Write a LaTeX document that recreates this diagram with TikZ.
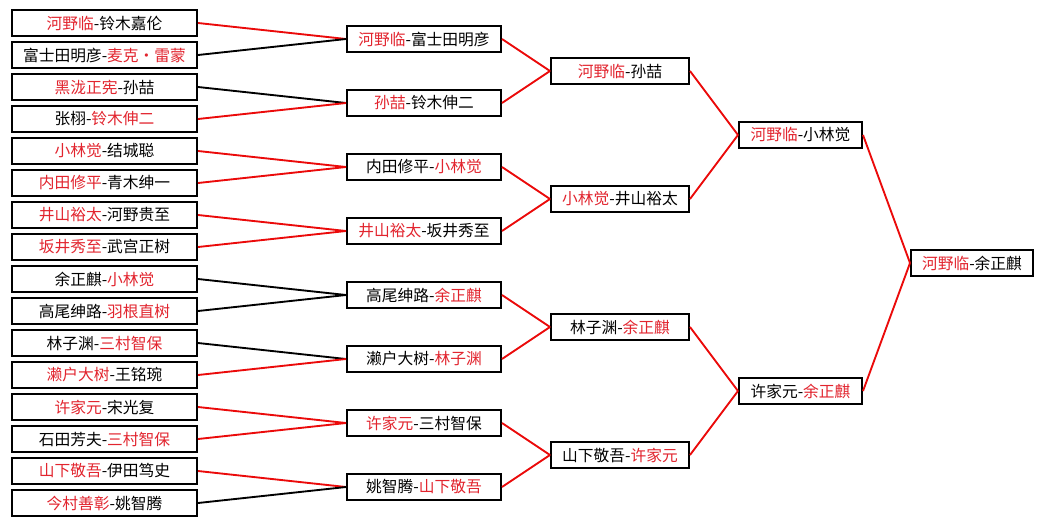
\documentclass[tikz,border=0pt]{standalone}
\usepackage{fontspec}
\setmainfont{Noto Sans CJK SC}
\usepackage{xcolor}
\usepackage{tikz}

\definecolor{wintext}{RGB}{226,36,46}
\definecolor{winline}{RGB}{235,10,10}
\newcommand{\win}[1]{\textcolor{wintext}{#1}}

\tikzset{
  box/.style={draw, line width=1.5pt, inner sep=0pt, minimum height=19.5pt, font=\fontsize{11.8pt}{13pt}\selectfont},
  rone/.style={box, minimum width=138.75pt},
  rtwo/.style={box, minimum width=115.5pt},
  rthree/.style={box, minimum width=103.5pt},
  rfour/.style={box, minimum width=92.25pt},
  rfinal/.style={box, minimum width=91.5pt},
  redline/.style={draw=winline, line width=1.4pt},
  blackline/.style={draw=black, line width=1.4pt}
}

\begin{document}
\begin{tikzpicture}[x=0.75pt,y=-0.75pt]
    \useasboundingbox[fill=white] (0,0) rectangle (1044,525);

    % first round
    \node[rone] (p1) at (104.5,23) {\win{河野临}-铃木嘉伦};
    \node[rone] (p2) at (104.5,55) {富士田明彦-\win{麦克・雷蒙}};
    \node[rone] (p3) at (104.5,87) {\win{黑泷正宪}-孙喆};
    \node[rone] (p4) at (104.5,119) {张栩-\win{铃木伸二}};
    \node[rone] (p5) at (104.5,151) {\win{小林觉}-结城聪};
    \node[rone] (p6) at (104.5,183) {\win{内田修平}-青木绅一};
    \node[rone] (p7) at (104.5,215) {\win{井山裕太}-河野贵至};
    \node[rone] (p8) at (104.5,247) {\win{坂井秀至}-武宫正树};
    \node[rone] (p9) at (104.5,279) {余正麒-\win{小林觉}};
    \node[rone] (p10) at (104.5,311) {高尾绅路-\win{羽根直树}};
    \node[rone] (p11) at (104.5,343) {林子渊-\win{三村智保}};
    \node[rone] (p12) at (104.5,375) {\win{濑户大树}-王铭琬};
    \node[rone] (p13) at (104.5,407) {\win{许家元}-宋光复};
    \node[rone] (p14) at (104.5,439) {石田芳夫-\win{三村智保}};
    \node[rone] (p15) at (104.5,471) {\win{山下敬吾}-伊田笃史};
    \node[rone] (p16) at (104.5,503) {\win{今村善彰}-姚智腾};

    % second round
    \node[rtwo] (q1) at (424,39) {\win{河野临}-富士田明彦};
    \node[rtwo] (q2) at (424,103) {\win{孙喆}-铃木伸二};
    \node[rtwo] (q3) at (424,167) {内田修平-\win{小林觉}};
    \node[rtwo] (q4) at (424,231) {\win{井山裕太}-坂井秀至};
    \node[rtwo] (q5) at (424,295) {高尾绅路-\win{余正麒}};
    \node[rtwo] (q6) at (424,359) {濑户大树-\win{林子渊}};
    \node[rtwo] (q7) at (424,423) {\win{许家元}-三村智保};
    \node[rtwo] (q8) at (424,487) {姚智腾-\win{山下敬吾}};

    % third round
    \node[rthree] (s1) at (620,71) {\win{河野临}-孙喆};
    \node[rthree] (s2) at (620,199) {\win{小林觉}-井山裕太};
    \node[rthree] (s3) at (620,327) {林子渊-\win{余正麒}};
    \node[rthree] (s4) at (620,455) {山下敬吾-\win{许家元}};

    % semifinal and final
    \node[rfour] (t1) at (800.5,135) {\win{河野临}-小林觉};
    \node[rfour] (t2) at (800.5,391) {许家元-\win{余正麒}};
    \node[rfinal] (f) at (972,263) {\win{河野临}-余正麒};

    \draw[redline] (p1.east) -- (q1.west);
    \draw[blackline] (p2.east) -- (q1.west);
    \draw[blackline] (p3.east) -- (q2.west);
    \draw[redline] (p4.east) -- (q2.west);
    \draw[redline] (p5.east) -- (q3.west);
    \draw[redline] (p6.east) -- (q3.west);
    \draw[redline] (p7.east) -- (q4.west);
    \draw[redline] (p8.east) -- (q4.west);
    \draw[blackline] (p9.east) -- (q5.west);
    \draw[blackline] (p10.east) -- (q5.west);
    \draw[blackline] (p11.east) -- (q6.west);
    \draw[redline] (p12.east) -- (q6.west);
    \draw[redline] (p13.east) -- (q7.west);
    \draw[redline] (p14.east) -- (q7.west);
    \draw[redline] (p15.east) -- (q8.west);
    \draw[blackline] (p16.east) -- (q8.west);

    \draw[redline] (q1.east) -- (s1.west);
    \draw[redline] (q2.east) -- (s1.west);
    \draw[redline] (q3.east) -- (s2.west);
    \draw[redline] (q4.east) -- (s2.west);
    \draw[redline] (q5.east) -- (s3.west);
    \draw[redline] (q6.east) -- (s3.west);
    \draw[redline] (q7.east) -- (s4.west);
    \draw[redline] (q8.east) -- (s4.west);

    \draw[redline] (s1.east) -- (t1.west);
    \draw[redline] (s2.east) -- (t1.west);
    \draw[redline] (s3.east) -- (t2.west);
    \draw[redline] (s4.east) -- (t2.west);

    \draw[redline] (t1.east) -- (f.west);
    \draw[redline] (t2.east) -- (f.west);
\end{tikzpicture}
\end{document}
